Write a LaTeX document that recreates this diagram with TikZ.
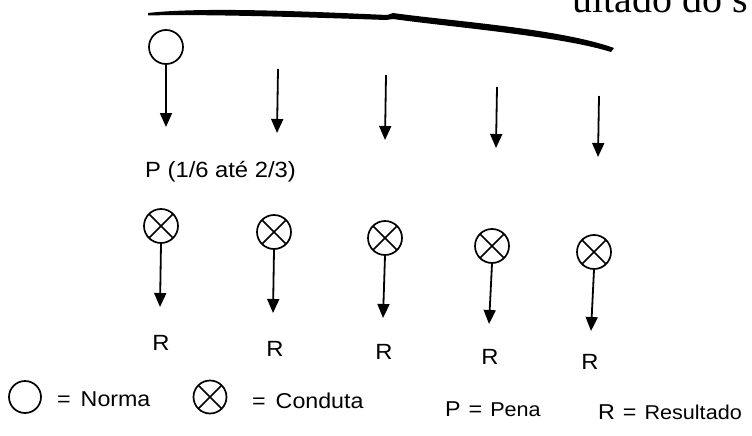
\documentclass[tikz,border=0pt]{standalone}
\usepackage{fontspec}
\setmainfont{Liberation Sans}[FakeStretch=1.08]
\newfontfamily\headserif{Liberation Serif}
\usetikzlibrary{arrows.meta}

\tikzset{
  norma/.style={circle, draw, line width=1.7pt, minimum size=34pt, inner sep=0pt},
  conduta/.style={norma,
    path picture={\draw[line width=1.6pt]
      (path picture bounding box.north west) -- (path picture bounding box.south east)
      (path picture bounding box.north east) -- (path picture bounding box.south west);}},
  arr/.style={line width=1.8pt, -{Triangle[length=14pt,width=12pt]}},
  lbl/.style={font=\fontsize{22}{26}\selectfont, inner sep=0pt},
  rlbl/.style={font=\fontsize{22}{26}\selectfont, inner sep=0pt},
  leg/.style={font=\fontsize{21.5}{25}\selectfont, inner sep=0pt},
}

\begin{document}
\begin{tikzpicture}[x=1pt, y=-1pt]
  % page area
  \fill[white] (0,0) rectangle (752,436);
  \useasboundingbox (0,0) rectangle (752,436);

  % running text cut off at the top edge
  \node[font=\headserif\fontsize{40}{44}\selectfont, anchor=base east, inner sep=0pt]
    (head) at (748,13) {ultado do s};

  % hand-drawn brace stroke
  \fill[black]
    (148,13) .. controls (200,7) and (300,11) .. (387,15)
    -- (393,13) .. controls (450,21) and (560,28.5) .. (614,48)
    -- (611,52) .. controls (560,36) and (450,27) .. (393,19)
    -- (386,20) .. controls (300,17) and (200,14) .. (148,15.5) -- cycle;

  % norm and the upper row of arrows
  \node[norma] (n) at (166,47) {};
  \coordinate (t1) at (166,127);
  \draw[arr] (n.south) -- (t1);

  \coordinate (s2) at (278,69);  \coordinate (t2) at (277,133);
  \coordinate (s3) at (386,75);  \coordinate (t3) at (385,140);
  \coordinate (s4) at (497,87);  \coordinate (t4) at (496,148);
  \coordinate (s5) at (599,96);  \coordinate (t5) at (598,157);
  \draw[arr] (s2) -- (t2);
  \draw[arr] (s3) -- (t3);
  \draw[arr] (s4) -- (t4);
  \draw[arr] (s5) -- (t5);

  \node[lbl, anchor=west] (pen) at (145,172) {P (1/6 até 2/3)};

  % conducts and their results
  \node[conduta] (c1) at (161,226) {};
  \node[conduta] (c2) at (274,232) {};
  \node[conduta] (c3) at (385,238) {};
  \node[conduta] (c4) at (492,246) {};
  \node[conduta] (c5) at (594,252) {};

  \coordinate (r1) at (160,307);
  \coordinate (r2) at (273,313);
  \coordinate (r3) at (383,318);
  \coordinate (r4) at (489,324);
  \coordinate (r5) at (591,331);
  \draw[arr] (c1.south) -- (r1);
  \draw[arr] (c2.south) -- (r2);
  \draw[arr] (c3.south) -- (r3);
  \draw[arr] (c4.south) -- (r4);
  \draw[arr] (c5.south) -- (r5);

  \node[rlbl] (R1) at (161,343) {R};
  \node[rlbl] (R2) at (275,349) {R};
  \node[rlbl] (R3) at (384,352) {R};
  \node[rlbl] (R4) at (490,357) {R};
  \node[rlbl] (R5) at (590,362) {R};

  % legend
  \node[norma, minimum size=32pt] (ln) at (25,397) {};
  \node[leg, anchor=west] (lnt) at (57,399) {=\hspace{10pt}Norma};
  \node[conduta, minimum size=33pt] (lc) at (210,397) {};
  \node[leg, anchor=west] (lct) at (252,401) {=\hspace{10pt}Conduta};
  \node[leg, anchor=west] (lp) at (445,409)
    {P\hspace{8pt}=\hspace{8pt}{\fontsize{20}{24}\selectfont Pena}};
  \node[leg, anchor=west] (lr) at (598,412)
    {R\hspace{8pt}=\hspace{8pt}{\fontsize{20}{24}\selectfont Resultado}};
\end{tikzpicture}
\end{document}
